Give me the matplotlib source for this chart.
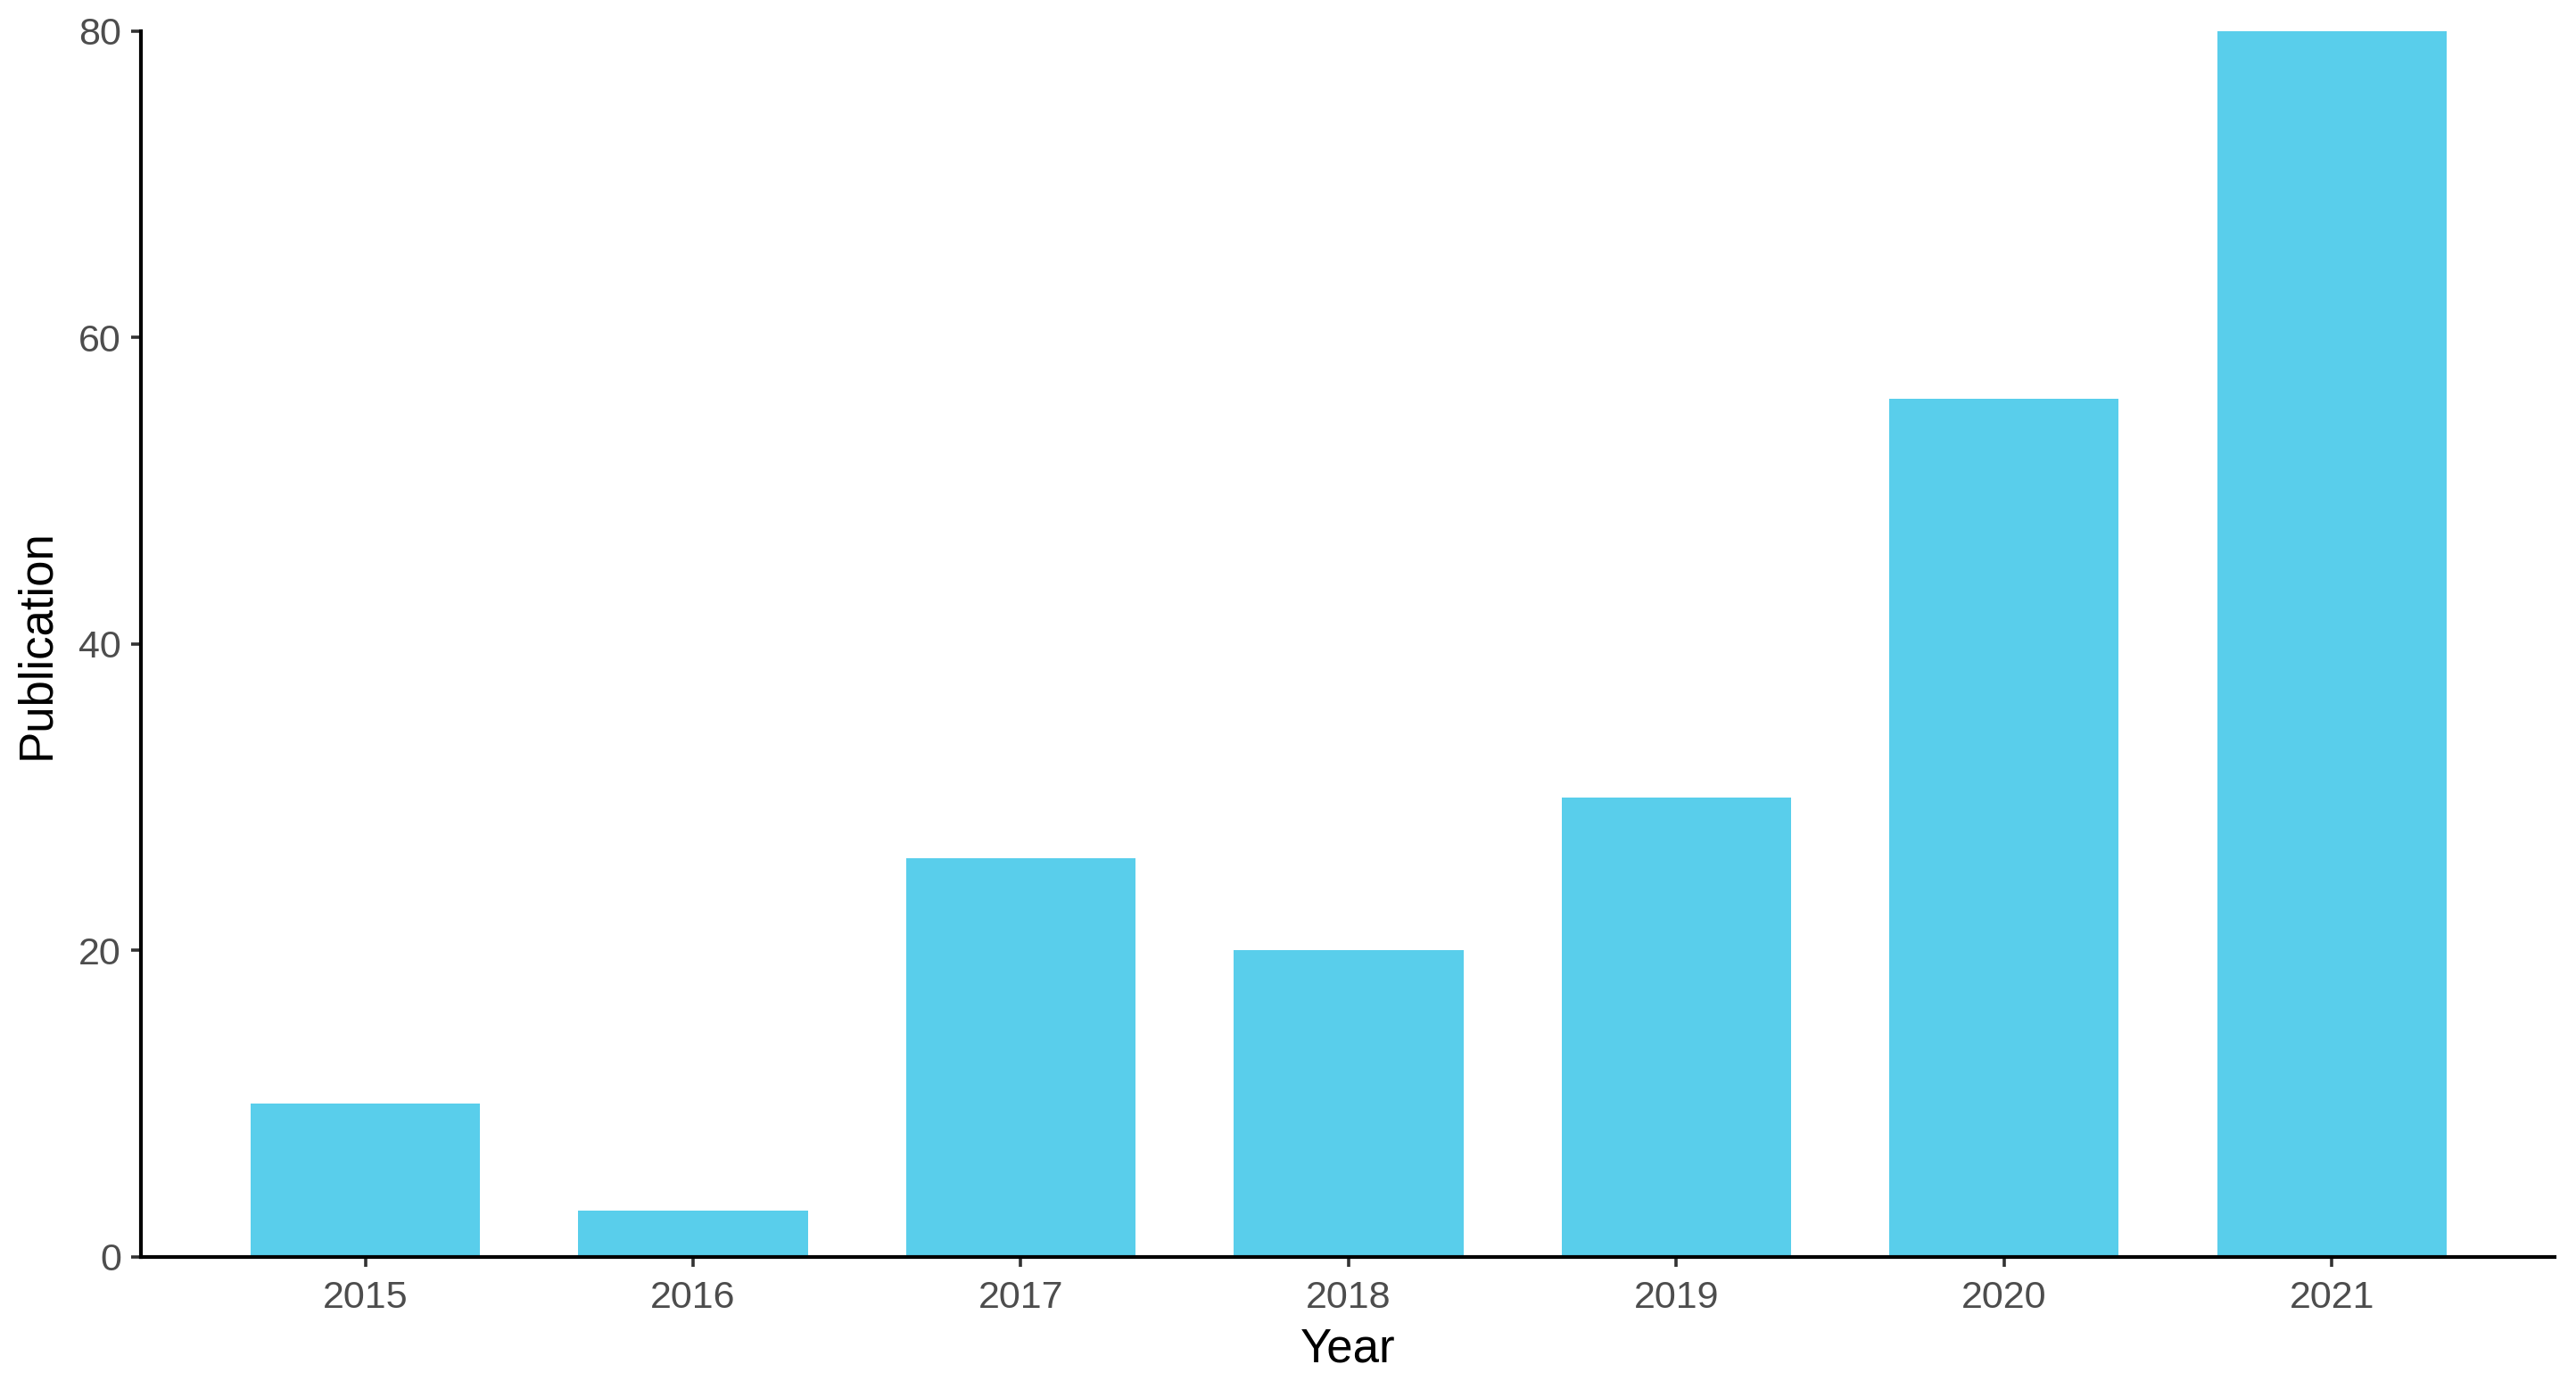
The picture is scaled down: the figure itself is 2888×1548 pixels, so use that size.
import matplotlib
matplotlib.use("Agg")
import matplotlib.pyplot as plt

years = ["2015", "2016", "2017", "2018", "2019", "2020", "2021"]
publications = [10, 3, 26, 20, 30, 56, 80]
y_ticks = [0, 20, 40, 60, 80]

plt.rcParams["font.family"] = ["Liberation Sans", "DejaVu Sans"]

fig = plt.figure(figsize=(14.44, 7.74), dpi=200)
ax = fig.add_axes([0.0547, 0.0898, 0.9370, 0.8876])

x = range(len(years))
ax.bar(x, publications, width=0.7, color="#59CEEB", edgecolor="none")

ax.set_xlim(-0.685, len(years) - 1 + 0.68)
ax.set_ylim(0, 80)
ax.set_xticks(list(x))
ax.set_xticklabels(years)
ax.set_yticks(y_ticks)

ax.spines[["top", "right"]].set_visible(False)
for side in ("left", "bottom"):
    ax.spines[side].set_linewidth(1.5)
    ax.spines[side].set_color("black")
ax.tick_params(axis="both", length=4, width=1.3, color="#333333",
               labelcolor="#4D4D4D", labelsize=15.5, pad=4)
ax.tick_params(axis="x", pad=5.5)

ax.set_xlabel("Year", fontsize=19, color="black", labelpad=4.5)
ax.set_ylabel("Publication", fontsize=19, color="black", labelpad=8)

fig.savefig("out.png", dpi=200)
